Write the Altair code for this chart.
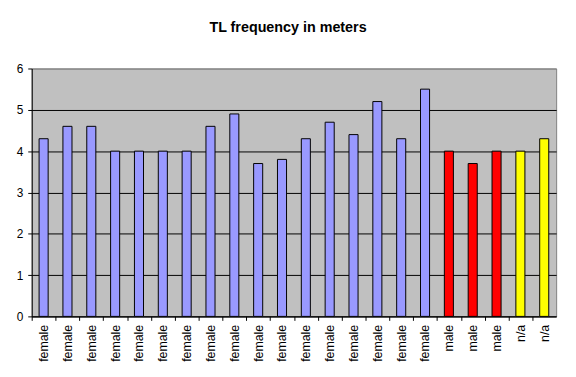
import json
import altair as alt
import pandas as pd

labels = ["female"] * 17 + ["male"] * 3 + ["n/a"] * 2
values = [4.3, 4.6, 4.6, 4.0, 4.0, 4.0, 4.0, 4.6, 4.9, 3.7, 3.8,
          4.3, 4.7, 4.4, 5.2, 4.3, 5.5, 4.0, 3.7, 4.0, 4.0, 4.3]
groups = ["female", "male", "n/a"]
group_colors = ["#9999FF", "#FF0000", "#FFFF00"]
y_ticks = [0, 1, 2, 3, 4, 5, 6]

df = pd.DataFrame({
    "idx": list(range(len(values))),
    "label": labels,
    "value": values,
})

label_expr = json.dumps(labels) + "[datum.value]"
FONT = "Liberation Sans"

chart = alt.Chart(df).mark_bar(stroke="#000000", strokeWidth=1).encode(
    x=alt.X(
        "idx:O",
        title=None,
        scale=alt.Scale(paddingInner=0.62, paddingOuter=0.31),
        axis=alt.Axis(
            labelExpr=label_expr,
            labelAngle=-90,
            labelFont=FONT,
            labelFontSize=12.5,
            labelColor="#000000",
            labelPadding=4,
            tickOffset=-12,
            labelOffset=12,
            tickSize=4,
            tickColor="#000000",
            domainColor="#000000",
            grid=False,
        ),
    ),
    y=alt.Y(
        "value:Q",
        title=None,
        scale=alt.Scale(domain=[0, 6], nice=False),
        axis=alt.Axis(
            values=y_ticks,
            labelFont=FONT,
            labelFontSize=12,
            labelColor="#000000",
            labelPadding=5,
            tickSize=4,
            tickColor="#000000",
            domainColor="#000000",
            gridColor={"condition": {"test": "datum.value >= 6", "value": "#808080"},
                       "value": "#000000"},
            gridOpacity=1,
        ),
    ),
    color=alt.Color(
        "label:N",
        scale=alt.Scale(domain=groups, range=group_colors),
        legend=None,
    ),
).properties(
    width=531,
    height=251,
    background="#FFFFFF",
    autosize=alt.AutoSizeParams(type="none"),
    padding={"left": 24, "top": 59, "right": 12, "bottom": 50},
    title=alt.TitleParams(
        "TL frequency in meters",
        font=FONT,
        fontSize=14.5,
        fontWeight="bold",
        color="#000000",
        anchor="middle",
        frame="group",
        dx=-6,
        offset=27,
    ),
).configure_view(
    fill="#C0C0C0",
    stroke="#808080",
    strokeWidth=1,
)

chart.save("out.html", embed_options={"renderer": "svg", "actions": False})
